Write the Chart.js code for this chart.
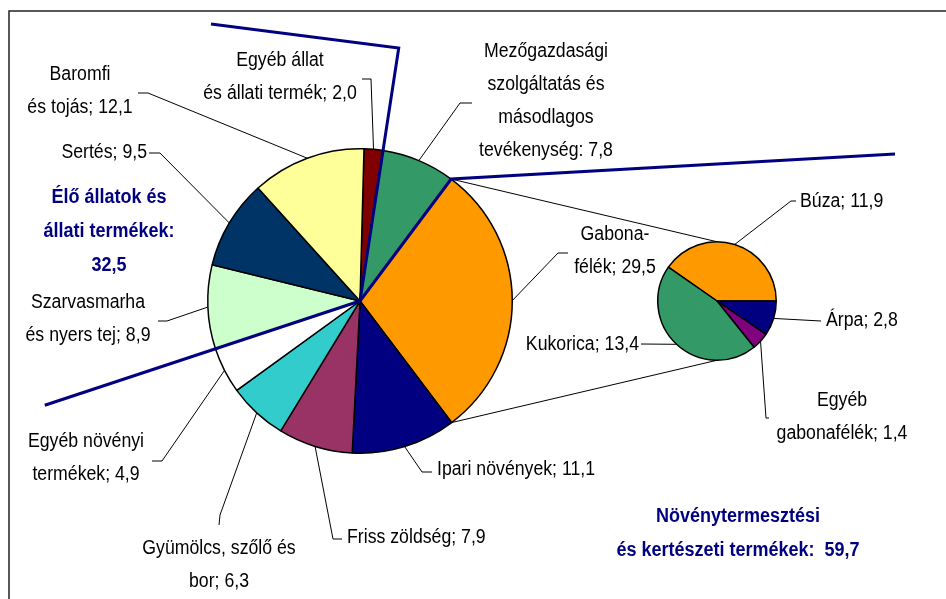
<!DOCTYPE html>
<html>
<head>
<meta charset="utf-8">
<script src="https://cdn.jsdelivr.net/npm/chart.js@4.4.1/dist/chart.umd.min.js"></script>
<style>
  html, body { margin: 0; padding: 0; background: #fff; }
  #wrap { position: relative; width: 946px; height: 599px; }
  #wrap canvas { position: absolute; left: 0; top: 0; }
</style>
</head>
<body>
<div id="wrap">
  <canvas id="mainPie" width="946" height="599"></canvas>
  <canvas id="subPie" width="946" height="599"></canvas>
</div>
<script>
// adatok - fő kör
const categories = [
  'Egyéb állat és állati termék',
  'Mezőgazdasági szolgáltatás és másodlagos tevékenység',
  'Gabonafélék',
  'Ipari növények',
  'Friss zöldség',
  'Gyümölcs, szőlő és bor',
  'Egyéb növényi termékek',
  'Szarvasmarha és nyers tej',
  'Sertés',
  'Baromfi és tojás'
]
const values = [ 2.0, 7.8, 29.5, 11.1, 7.9, 6.3, 4.9, 8.9, 9.5, 12.1 ]
const colors = [ '#800000', '#339966', '#FF9900', '#000080', '#993366', '#33CCCC', '#FFFFFF', '#CCFFCC', '#003366', '#FFFF99' ]

// gabonafélék bontása - kis kör
const subCategories = [ 'Búza', 'Árpa', 'Egyéb gabonafélék', 'Kukorica' ]
const subValues = [ 11.9, 2.8, 1.4, 13.4 ]
const subColors = [ '#FF9900', '#000080', '#800080', '#339966' ]

// csoportok
const animalGroup = [ 0, 7, 8, 9 ]
const cropGroup = [ 2, 3, 4, 5, 6 ]

const fmt = ( v ) => v.toFixed( 1 ).replace( '.', ',' )
const sumOf = ( idx ) => idx.reduce( ( s, i ) => s + values[i], 0 )

// feliratok elhelyezése (csak elrendezés)
const mainLabels = [
  { lines: [ 'Egyéb állat', 'és állati termék; {v}' ], x: 280, y: 66, align: 'center', leader: [ [ 362, 79 ], [ 371, 79 ] ] },
  { lines: [ 'Mezőgazdasági', 'szolgáltatás és', 'másodlagos', 'tevékenység: {v}' ], x: 546, y: 57, align: 'center', leader: [ [ 472, 103 ], [ 460, 103 ] ] },
  { lines: [ 'Gabona-', 'félék; {v}' ], x: 615, y: 240, align: 'center', leader: [ [ 568, 253 ], [ 558, 253 ] ] },
  { lines: [ 'Ipari növények; {v}' ], x: 437, y: 475, align: 'left', leader: [ [ 432, 472 ], [ 422, 472 ] ] },
  { lines: [ 'Friss zöldség; {v}' ], x: 347, y: 543, align: 'left', leader: [ [ 342, 539 ], [ 333, 539 ] ] },
  { lines: [ 'Gyümölcs, szőlő és', 'bor; {v}' ], x: 219, y: 554, align: 'center', leader: [ [ 219, 525 ], [ 220, 515 ] ] },
  { lines: [ 'Egyéb növényi', 'termékek; {v}' ], x: 86, y: 447, align: 'center', leader: [ [ 152, 461 ], [ 162, 461 ] ] },
  { lines: [ 'Szarvasmarha', 'és nyers tej; {v}' ], x: 88, y: 308, align: 'center', leader: [ [ 158, 321 ], [ 167, 321 ] ] },
  { lines: [ 'Sertés; {v}' ], x: 147, y: 158, align: 'right', leader: [ [ 149, 153 ], [ 160, 153 ] ] },
  { lines: [ 'Baromfi', 'és tojás; {v}' ], x: 80, y: 80, align: 'center', leader: [ [ 138, 93 ], [ 148, 93 ] ] }
]
const subLabels = [
  { lines: [ 'Búza; {v}' ], x: 800, y: 207, align: 'left', leader: [ [ 796, 201 ], [ 791, 201 ] ] },
  { lines: [ 'Árpa; {v}' ], x: 826, y: 326, align: 'left', leader: [ [ 821, 321 ] ] },
  { lines: [ 'Egyéb', 'gabonafélék; {v}' ], x: 842, y: 406, align: 'center', leader: [ [ 769, 418 ], [ 766, 418 ] ] },
  { lines: [ 'Kukorica; {v}' ], x: 639, y: 350, align: 'right', leader: [ [ 641, 344 ] ] }
]

const FONT = '"Liberation Sans", Arial, sans-serif'
const NAVY = '#000080'

const drawText = ( ctx, text, x, y, align, bold, color ) => {
  ctx.save()
  ctx.font = ( bold ? 'bold ' : '' ) + '20px ' + FONT
  ctx.fillStyle = color
  ctx.textAlign = align
  ctx.textBaseline = 'alphabetic'
  ctx.translate( x, y )
  ctx.scale( bold ? 0.9 : 0.885, 1 )
  ctx.fillText( text, 0, 0 )
  ctx.restore()
}

const arcPoint = ( arc, angle, r ) => [ arc.x + r * Math.cos( angle ), arc.y + r * Math.sin( angle ) ]

const polyline = ( ctx, pts, width, color ) => {
  ctx.save()
  ctx.strokeStyle = color
  ctx.lineWidth = width
  ctx.lineJoin = 'miter'
  ctx.beginPath()
  pts.forEach( ( p, i ) => i ? ctx.lineTo( p[0], p[1] ) : ctx.moveTo( p[0], p[1] ) )
  ctx.stroke()
  ctx.restore()
}

const drawLabels = ( ctx, arcs, labels, vals ) => {
  labels.forEach( ( lab, i ) => {
    const a = arcs[i]
    const mid = ( a.startAngle + a.endAngle ) / 2
    polyline( ctx, [ ...lab.leader, arcPoint( a, mid, a.outerRadius ) ], 1, '#000' )
    lab.lines.forEach( ( line, k ) => {
      drawText( ctx, line.replace( '{v}', fmt( vals[i] ) ), lab.x, lab.y + k * 33, lab.align, false, '#000' )
    } )
  } )
}

const commonOptions = ( padding, rotation ) => ( {
  responsive: false,
  animation: false,
  rotation: rotation,
  layout: { padding: padding },
  plugins: { legend: { display: false }, tooltip: { enabled: false } }
} )

const mainChart = new Chart( document.getElementById( 'mainPie' ), {
  type: 'pie',
  data: {
    labels: categories,
    datasets: [ { data: values, backgroundColor: colors, borderColor: '#000', borderWidth: 1.5 } ]
  },
  options: commonOptions( { left: 207, top: 148, right: 433, bottom: 145 }, 1.5 )
} )

// rajzok a kis kör vásznán: vonalak, feliratok, keret
const overlay = {
  id: 'overlay',
  afterDraw( chart ) {
    const ctx = chart.ctx
    const mainArcs = mainChart.getDatasetMeta( 0 ).data
    const subArcs = chart.getDatasetMeta( 0 ).data
    const c = mainArcs[0]
    const R = c.outerRadius
    const s = subArcs[0]

    // keret
    polyline( ctx, [ [ 9, 599 ], [ 9, 11 ], [ 946, 11 ] ], 1.5, '#222' )

    // összekötő vonalak a gabonafélék szeletétől
    const gab = mainArcs[2]
    polyline( ctx, [ arcPoint( c, gab.startAngle, R ), [ s.x, s.y - s.outerRadius ] ], 1, '#000' )
    polyline( ctx, [ arcPoint( c, gab.endAngle, R ), [ s.x, s.y + s.outerRadius ] ], 1, '#000' )

    drawLabels( ctx, mainArcs, mainLabels, values )
    drawLabels( ctx, subArcs, subLabels, subValues )

    // csoporthatárok
    polyline( ctx, [ [ c.x, c.y ], arcPoint( c, mainArcs[1].startAngle, 256 ), [ 211, 24 ] ], 3, NAVY )
    polyline( ctx, [ [ c.x, c.y ], arcPoint( c, mainArcs[2].startAngle, R ), [ 895, 154 ] ], 3, NAVY )
    polyline( ctx, [ [ c.x, c.y ], arcPoint( c, mainArcs[7].startAngle, 332 ) ], 3, NAVY )

    // csoport összegek
    const animalLines = [ 'Élő állatok és', 'állati termékek:', fmt( sumOf( animalGroup ) ) ]
    animalLines.forEach( ( t, k ) => drawText( ctx, t, 109, 203 + k * 34, 'center', true, NAVY ) )
    const cropLines = [ 'Növénytermesztési', 'és kertészeti termékek:  ' + fmt( sumOf( cropGroup ) ) ]
    cropLines.forEach( ( t, k ) => drawText( ctx, t, 738, 522 + k * 34, 'center', true, NAVY ) )
  }
}

new Chart( document.getElementById( 'subPie' ), {
  type: 'pie',
  data: {
    labels: subCategories,
    datasets: [ { data: subValues, backgroundColor: subColors, borderColor: '#000', borderWidth: 1.5 } ]
  },
  options: commonOptions( { left: 657, top: 241, right: 169, bottom: 238 }, -55.2 ),
  plugins: [ overlay ]
} )
</script>
</body>
</html>
